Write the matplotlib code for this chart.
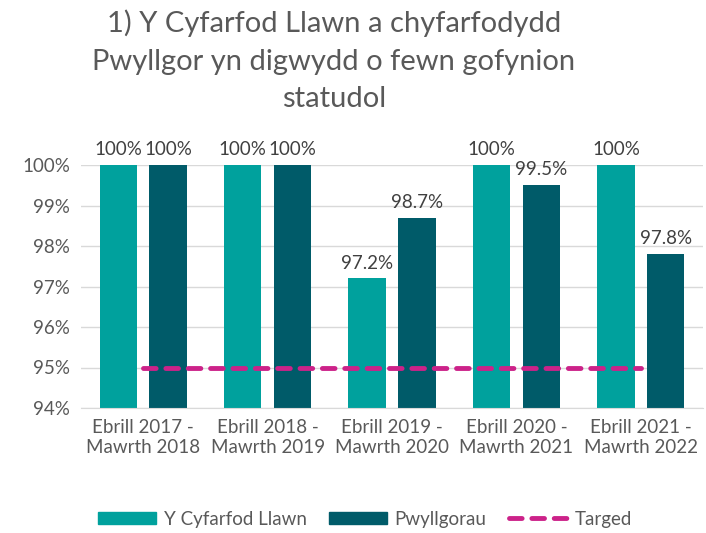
import numpy as np
import matplotlib.pyplot as plt
from matplotlib.patches import Patch
from matplotlib.lines import Line2D

plt.rcParams['font.family'] = ['Lato', 'DejaVu Sans']

categories = ['Ebrill 2017 -\nMawrth 2018', 'Ebrill 2018 -\nMawrth 2019',
              'Ebrill 2019 -\nMawrth 2020', 'Ebrill 2020 -\nMawrth 2021',
              'Ebrill 2021 -\nMawrth 2022']
cyfarfod_llawn = [100, 100, 97.2, 100, 100]
pwyllgorau = [100, 100, 98.7, 99.5, 97.8]
targed = [95, 95, 95, 95, 95]
labels_llawn = ['100%', '100%', '97.2%', '100%', '100%']
labels_pwyll = ['100%', '100%', '98.7%', '99.5%', '97.8%']

teal = '#00A19D'
dark = '#005B69'
pink = '#CC2289'
grey = '#595959'
dash = (0, (2.6, 2.0))

fig = plt.figure(figsize=(7.06, 5.33), dpi=100)
ax = fig.add_axes([81/706, 1-408/533, 622/706, 243/533])

x = np.arange(len(categories))
w = 0.3
ax.bar(x - 0.2, np.array(cyfarfod_llawn) - 94, w, bottom=94, color=teal, zorder=2)
ax.bar(x + 0.2, np.array(pwyllgorau) - 94, w, bottom=94, color=dark, zorder=2)
ax.plot(x, targed, color=pink, lw=3.5, ls=dash, dash_capstyle='round', zorder=3)

for xi, v, t in zip(x - 0.2, cyfarfod_llawn, labels_llawn):
    ax.text(xi, v + 0.17, t, ha='center', va='bottom', fontsize=13.5, color='#404040')
for xi, v, t in zip(x + 0.2, pwyllgorau, labels_pwyll):
    ax.text(xi, v + 0.17, t, ha='center', va='bottom', fontsize=13.5, color='#404040')

ax.set_xlim(-0.5, 4.5)
ax.set_ylim(94, 100)
ax.set_yticks(range(94, 101))
ax.set_yticklabels([f'{t}%' for t in range(94, 101)])
ax.set_xticks(x)
ax.set_xticklabels(categories)
ax.tick_params(axis='both', length=0, labelsize=13.5, colors=grey, pad=8)
ax.grid(axis='y', color='#D9D9D9', lw=1, zorder=0)
for s in ['top', 'right', 'left']:
    ax.spines[s].set_visible(False)
ax.spines['bottom'].set_color('#D9D9D9')

fig.text(334/706, 1-61/533, '1) Y Cyfarfod Llawn a chyfarfodydd\nPwyllgor yn digwydd o fewn gofynion\nstatudol',
         ha='center', va='center', fontsize=21, color=grey, linespacing=1.55)

handles = [Patch(color=teal, label='Y Cyfarfod Llawn'),
           Patch(color=dark, label='Pwyllgorau'),
           Line2D([], [], color=pink, lw=3.5, ls=dash, dash_capstyle='round', label='Targed')]
fig.legend(handles=handles, loc='center', bbox_to_anchor=(365/706, 1-519/533), ncol=3,
           frameon=False, fontsize=13.5, labelcolor=grey, handlelength=3.1,
           handleheight=0.55, columnspacing=1.2, handletextpad=0.4)

fig.savefig('out.png')
